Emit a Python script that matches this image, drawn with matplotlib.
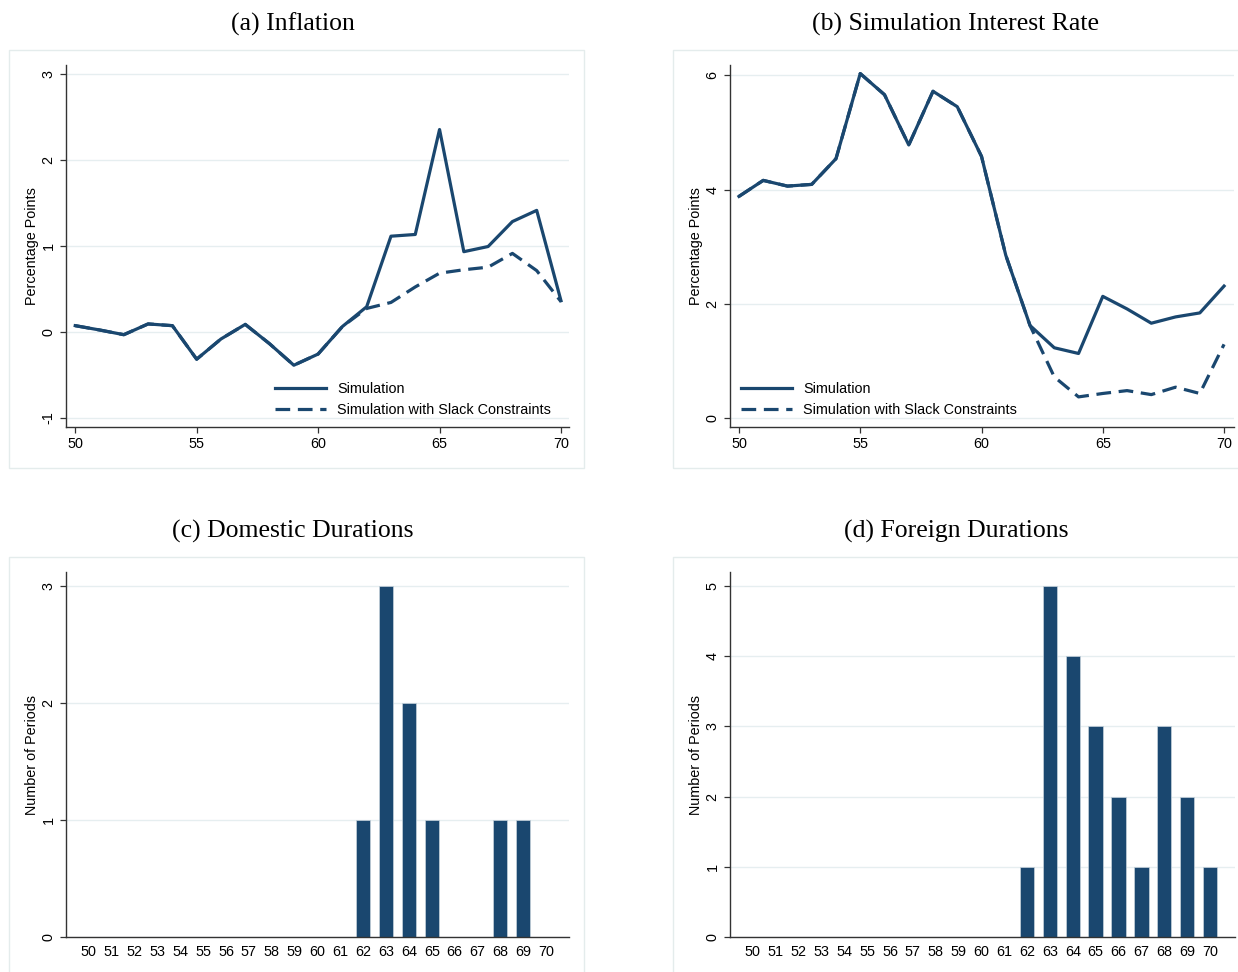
import numpy as np
import matplotlib
matplotlib.use("Agg")
import matplotlib.pyplot as plt
from matplotlib.patches import Rectangle

# -----------------------------
# Data
# -----------------------------
years = list(range(50, 71))

infl_sim = [0.07, 0.02, -0.035, 0.09, 0.07, -0.32, -0.085, 0.085, -0.14, -0.39, -0.26,
            0.06, 0.29, 1.11, 1.13, 2.35, 0.93, 0.99, 1.28, 1.41, 0.36]
infl_slack = [0.07, 0.02, -0.035, 0.09, 0.07, -0.32, -0.085, 0.085, -0.14, -0.39, -0.26,
              0.06, 0.27, 0.34, 0.52, 0.68, 0.72, 0.75, 0.91, 0.71, 0.35]

rate_sim = [3.88, 4.16, 4.06, 4.09, 4.54, 6.03, 5.66, 4.78, 5.72, 5.45, 4.58,
            2.85, 1.62, 1.23, 1.13, 2.13, 1.91, 1.66, 1.77, 1.84, 2.31]
rate_slack = [3.88, 4.16, 4.06, 4.09, 4.54, 6.03, 5.66, 4.78, 5.72, 5.45, 4.58,
              2.85, 1.62, 0.72, 0.37, 0.43, 0.48, 0.41, 0.54, 0.43, 1.29]

dom_durations = [0] * 12 + [1, 3, 2, 1, 0, 0, 1, 1, 0]
for_durations = [0] * 12 + [1, 5, 4, 3, 2, 1, 3, 2, 1]

titles = ["(a) Inflation", "(b) Simulation Interest Rate",
          "(c) Domestic Durations", "(d) Foreign Durations"]

# -----------------------------
# Style
# -----------------------------
W, H = 1238, 972
navy = "#1a476f"
grid_c = "#e6eef0"
box_c = "#e4ecec"
axis_c = "#333333"
fs = 10.4
plt.rcParams["font.family"] = ["Liberation Sans", "DejaVu Sans"]


def px_axes(fig, left, top, right, bottom):
    return fig.add_axes([left / W, 1 - bottom / H, (right - left) / W, (bottom - top) / H])


def style(ax, yticks):
    for s in ["top", "right"]:
        ax.spines[s].set_visible(False)
    for s in ["left", "bottom"]:
        ax.spines[s].set_color(axis_c)
        ax.spines[s].set_linewidth(1.0)
    ax.set_yticks(yticks)
    ax.set_yticklabels([str(t) for t in yticks], rotation=90, va="center")
    ax.tick_params(axis="both", labelsize=fs, color=axis_c, length=4, width=0.9)
    ax.grid(axis="y", color=grid_c, linewidth=1.0)
    ax.set_axisbelow(True)


def add_legend(ax, x_px, y_px):
    h, l = ax.get_legend_handles_labels()
    ax.legend(h[::-1], l[::-1], frameon=False, fontsize=fs, handlelength=3.5,
              loc="upper left", bbox_to_anchor=(x_px / W, 1 - y_px / H),
              bbox_transform=fig.transFigure, borderpad=0, borderaxespad=0,
              labelspacing=0.5, handletextpad=0.8)


fig = plt.figure(figsize=(W / 100, H / 100), dpi=100)

# panel boxes
for (x0, y0, x1, y1) in [(9, 50, 584, 468), (673, 50, 1250, 468),
                         (9, 557, 584, 985), (673, 557, 1250, 985)]:
    fig.patches.append(Rectangle((x0 / W, 1 - y1 / H), (x1 - x0) / W, (y1 - y0) / H,
                                 transform=fig.transFigure, fill=False,
                                 edgecolor=box_c, linewidth=1.0))

# titles
for txt, (cx, cy) in zip(titles, [(293, 24), (956, 24), (293, 531), (956, 531)]):
    fig.text(cx / W, 1 - cy / H, txt, ha="center", va="center",
             fontsize=18.5, family=["Liberation Serif", "DejaVu Serif"])

# -----------------------------
# (a) Inflation
# -----------------------------
ax = px_axes(fig, 66, 65, 569, 427)
ax.plot(years, infl_slack, color=navy, lw=2.3, dashes=(4.6, 2.4), label="Simulation with Slack Constraints")
ax.plot(years, infl_sim, color=navy, lw=2.3, label="Simulation")
ax.set_xlim(49.62, 70.33)
ax.set_ylim(-1.108, 3.10)
ax.set_xticks([50, 55, 60, 65, 70])
style(ax, [-1, 0, 1, 2, 3])
ax.set_ylabel("Percentage Points", fontsize=fs, labelpad=2)
add_legend(ax, 275, 382)

# -----------------------------
# (b) Interest rate
# -----------------------------
ax = px_axes(fig, 730, 65, 1234, 427)
ax.plot(years, rate_slack, color=navy, lw=2.3, dashes=(4.6, 2.4), label="Simulation with Slack Constraints")
ax.plot(years, rate_sim, color=navy, lw=2.3, label="Simulation")
ax.set_xlim(49.63, 70.41)
ax.set_ylim(-0.157, 6.18)
ax.set_xticks([50, 55, 60, 65, 70])
style(ax, [0, 2, 4, 6])
ax.set_ylabel("Percentage Points", fontsize=fs, labelpad=2)
add_legend(ax, 741, 382)

# -----------------------------
# (c) Domestic durations
# -----------------------------
ax = px_axes(fig, 66, 572, 569, 937)
ax.bar(years, dom_durations, width=0.62, color=navy, edgecolor="#c8d3dc", linewidth=0.5)
ax.set_xlim(49.0, 71.0)
ax.set_ylim(0, 3.12)
ax.set_xticks(years)
style(ax, [0, 1, 2, 3])
ax.tick_params(axis="x", length=0, pad=6)
ax.set_ylabel("Number of Periods", fontsize=fs, labelpad=2)

# -----------------------------
# (d) Foreign durations
# -----------------------------
ax = px_axes(fig, 730, 572, 1235, 937)
ax.bar(years, for_durations, width=0.63, color=navy, edgecolor="#c8d3dc", linewidth=0.5)
ax.set_xlim(49.0, 71.1)
ax.set_ylim(0, 5.2)
ax.set_xticks(years)
style(ax, [0, 1, 2, 3, 4, 5])
ax.tick_params(axis="x", length=0, pad=6)
ax.set_ylabel("Number of Periods", fontsize=fs, labelpad=2)

fig.savefig("out.png", dpi=100)
